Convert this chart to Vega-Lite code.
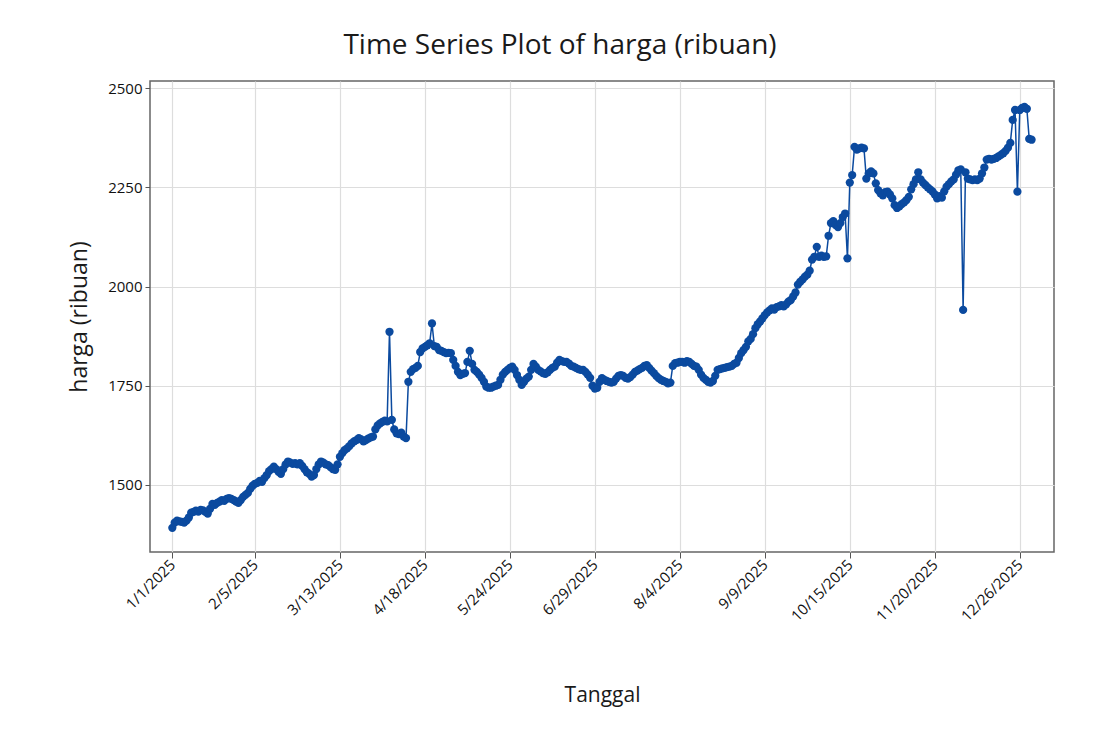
{
  "$schema": "https://vega.github.io/schema/vega-lite/v6.json",
  "autosize": "none",
  "width": 904,
  "height": 471,
  "padding": {"left": 150, "top": 81, "right": 43, "bottom": 178},
  "background": "white",
  "title": {
    "text": "Time Series Plot of harga (ribuan)",
    "anchor": "middle",
    "dx": -42,
    "offset": 21,
    "font": "Open Sans",
    "fontSize": 28,
    "fontWeight": "normal",
    "color": "#1a1a1a"
  },
  "config": {
    "view": {"stroke": "#666666", "strokeWidth": 1.5},
    "axis": {
      "labelFont": "Open Sans",
      "titleFont": "Open Sans",
      "labelFontSize": 15,
      "titleFontSize": 21,
      "titleFontWeight": "normal",
      "labelColor": "#111111",
      "titleColor": "#1a1a1a",
      "gridColor": "#dddddd",
      "gridWidth": 1.2,
      "tickColor": "#555555",
      "tickSize": 6,
      "domain": false
    }
  },
  "data": {
    "values": [
      {"t":"2025-01-01","v":1392},{"t":"2025-01-02","v":1405},{"t":"2025-01-03","v":1410},{"t":"2025-01-04","v":1408},{"t":"2025-01-05","v":1407},{"t":"2025-01-06","v":1405},{"t":"2025-01-07","v":1410},{"t":"2025-01-08","v":1418},{"t":"2025-01-09","v":1430},{"t":"2025-01-10","v":1432},{"t":"2025-01-11","v":1435},{"t":"2025-01-12","v":1433},{"t":"2025-01-13","v":1437},{"t":"2025-01-14","v":1436},{"t":"2025-01-15","v":1432},{"t":"2025-01-16","v":1428},{"t":"2025-01-17","v":1440},{"t":"2025-01-18","v":1452},{"t":"2025-01-19","v":1450},{"t":"2025-01-20","v":1455},{"t":"2025-01-21","v":1458},{"t":"2025-01-22","v":1462},{"t":"2025-01-23","v":1460},{"t":"2025-01-24","v":1465},{"t":"2025-01-25","v":1467},{"t":"2025-01-26","v":1465},{"t":"2025-01-27","v":1462},{"t":"2025-01-28","v":1458},{"t":"2025-01-29","v":1455},{"t":"2025-01-30","v":1462},{"t":"2025-01-31","v":1470},
      {"t":"2025-02-01","v":1475},{"t":"2025-02-02","v":1480},{"t":"2025-02-03","v":1490},{"t":"2025-02-04","v":1498},{"t":"2025-02-05","v":1503},{"t":"2025-02-06","v":1505},{"t":"2025-02-07","v":1510},{"t":"2025-02-08","v":1508},{"t":"2025-02-09","v":1517},{"t":"2025-02-10","v":1525},{"t":"2025-02-11","v":1535},{"t":"2025-02-12","v":1540},{"t":"2025-02-13","v":1546},{"t":"2025-02-14","v":1540},{"t":"2025-02-15","v":1533},{"t":"2025-02-16","v":1528},{"t":"2025-02-17","v":1540},{"t":"2025-02-18","v":1552},{"t":"2025-02-19","v":1559},{"t":"2025-02-20","v":1556},{"t":"2025-02-21","v":1553},{"t":"2025-02-22","v":1555},{"t":"2025-02-23","v":1552},{"t":"2025-02-24","v":1555},{"t":"2025-02-25","v":1548},{"t":"2025-02-26","v":1540},{"t":"2025-02-27","v":1532},{"t":"2025-02-28","v":1528},
      {"t":"2025-03-01","v":1521},{"t":"2025-03-02","v":1525},{"t":"2025-03-03","v":1540},{"t":"2025-03-04","v":1552},{"t":"2025-03-05","v":1559},{"t":"2025-03-06","v":1556},{"t":"2025-03-07","v":1552},{"t":"2025-03-08","v":1550},{"t":"2025-03-09","v":1545},{"t":"2025-03-10","v":1540},{"t":"2025-03-11","v":1538},{"t":"2025-03-12","v":1552},{"t":"2025-03-13","v":1571},{"t":"2025-03-14","v":1580},{"t":"2025-03-15","v":1588},{"t":"2025-03-16","v":1592},{"t":"2025-03-17","v":1598},{"t":"2025-03-18","v":1605},{"t":"2025-03-19","v":1610},{"t":"2025-03-20","v":1613},{"t":"2025-03-21","v":1618},{"t":"2025-03-22","v":1615},{"t":"2025-03-23","v":1610},{"t":"2025-03-24","v":1613},{"t":"2025-03-25","v":1617},{"t":"2025-03-26","v":1620},{"t":"2025-03-27","v":1622},{"t":"2025-03-28","v":1640},{"t":"2025-03-29","v":1650},{"t":"2025-03-30","v":1655},{"t":"2025-03-31","v":1659},
      {"t":"2025-04-01","v":1662},{"t":"2025-04-02","v":1660},{"t":"2025-04-03","v":1886},{"t":"2025-04-04","v":1664},{"t":"2025-04-05","v":1640},{"t":"2025-04-06","v":1630},{"t":"2025-04-07","v":1628},{"t":"2025-04-08","v":1632},{"t":"2025-04-09","v":1622},{"t":"2025-04-10","v":1618},{"t":"2025-04-11","v":1760},{"t":"2025-04-12","v":1785},{"t":"2025-04-13","v":1792},{"t":"2025-04-14","v":1795},{"t":"2025-04-15","v":1800},{"t":"2025-04-16","v":1835},{"t":"2025-04-17","v":1844},{"t":"2025-04-18","v":1848},{"t":"2025-04-19","v":1852},{"t":"2025-04-20","v":1857},{"t":"2025-04-21","v":1907},{"t":"2025-04-22","v":1850},{"t":"2025-04-23","v":1848},{"t":"2025-04-24","v":1840},{"t":"2025-04-25","v":1838},{"t":"2025-04-26","v":1835},{"t":"2025-04-27","v":1832},{"t":"2025-04-28","v":1833},{"t":"2025-04-29","v":1832},{"t":"2025-04-30","v":1815},
      {"t":"2025-05-01","v":1800},{"t":"2025-05-02","v":1785},{"t":"2025-05-03","v":1777},{"t":"2025-05-04","v":1780},{"t":"2025-05-05","v":1782},{"t":"2025-05-06","v":1810},{"t":"2025-05-07","v":1838},{"t":"2025-05-08","v":1805},{"t":"2025-05-09","v":1790},{"t":"2025-05-10","v":1785},{"t":"2025-05-11","v":1778},{"t":"2025-05-12","v":1770},{"t":"2025-05-13","v":1760},{"t":"2025-05-14","v":1748},{"t":"2025-05-15","v":1745},{"t":"2025-05-16","v":1745},{"t":"2025-05-17","v":1748},{"t":"2025-05-18","v":1750},{"t":"2025-05-19","v":1752},{"t":"2025-05-20","v":1765},{"t":"2025-05-21","v":1778},{"t":"2025-05-22","v":1785},{"t":"2025-05-23","v":1790},{"t":"2025-05-24","v":1795},{"t":"2025-05-25","v":1798},{"t":"2025-05-26","v":1790},{"t":"2025-05-27","v":1777},{"t":"2025-05-28","v":1765},{"t":"2025-05-29","v":1752},{"t":"2025-05-30","v":1760},{"t":"2025-05-31","v":1768},
      {"t":"2025-06-01","v":1773},{"t":"2025-06-02","v":1790},{"t":"2025-06-03","v":1805},{"t":"2025-06-04","v":1798},{"t":"2025-06-05","v":1790},{"t":"2025-06-06","v":1786},{"t":"2025-06-07","v":1782},{"t":"2025-06-08","v":1780},{"t":"2025-06-09","v":1784},{"t":"2025-06-10","v":1790},{"t":"2025-06-11","v":1795},{"t":"2025-06-12","v":1798},{"t":"2025-06-13","v":1808},{"t":"2025-06-14","v":1815},{"t":"2025-06-15","v":1812},{"t":"2025-06-16","v":1810},{"t":"2025-06-17","v":1810},{"t":"2025-06-18","v":1806},{"t":"2025-06-19","v":1800},{"t":"2025-06-20","v":1798},{"t":"2025-06-21","v":1795},{"t":"2025-06-22","v":1792},{"t":"2025-06-23","v":1790},{"t":"2025-06-24","v":1790},{"t":"2025-06-25","v":1785},{"t":"2025-06-26","v":1778},{"t":"2025-06-27","v":1770},{"t":"2025-06-28","v":1750},{"t":"2025-06-29","v":1743},{"t":"2025-06-30","v":1745},
      {"t":"2025-07-01","v":1760},{"t":"2025-07-02","v":1769},{"t":"2025-07-03","v":1765},{"t":"2025-07-04","v":1762},{"t":"2025-07-05","v":1760},{"t":"2025-07-06","v":1758},{"t":"2025-07-07","v":1760},{"t":"2025-07-08","v":1768},{"t":"2025-07-09","v":1775},{"t":"2025-07-10","v":1777},{"t":"2025-07-11","v":1775},{"t":"2025-07-12","v":1770},{"t":"2025-07-13","v":1768},{"t":"2025-07-14","v":1772},{"t":"2025-07-15","v":1778},{"t":"2025-07-16","v":1785},{"t":"2025-07-17","v":1788},{"t":"2025-07-18","v":1792},{"t":"2025-07-19","v":1795},{"t":"2025-07-20","v":1800},{"t":"2025-07-21","v":1802},{"t":"2025-07-22","v":1795},{"t":"2025-07-23","v":1788},{"t":"2025-07-24","v":1782},{"t":"2025-07-25","v":1775},{"t":"2025-07-26","v":1769},{"t":"2025-07-27","v":1765},{"t":"2025-07-28","v":1762},{"t":"2025-07-29","v":1760},{"t":"2025-07-30","v":1756},{"t":"2025-07-31","v":1758},
      {"t":"2025-08-01","v":1800},{"t":"2025-08-02","v":1807},{"t":"2025-08-03","v":1808},{"t":"2025-08-04","v":1810},{"t":"2025-08-05","v":1810},{"t":"2025-08-06","v":1808},{"t":"2025-08-07","v":1812},{"t":"2025-08-08","v":1810},{"t":"2025-08-09","v":1805},{"t":"2025-08-10","v":1800},{"t":"2025-08-11","v":1798},{"t":"2025-08-12","v":1790},{"t":"2025-08-13","v":1778},{"t":"2025-08-14","v":1770},{"t":"2025-08-15","v":1765},{"t":"2025-08-16","v":1760},{"t":"2025-08-17","v":1758},{"t":"2025-08-18","v":1762},{"t":"2025-08-19","v":1775},{"t":"2025-08-20","v":1790},{"t":"2025-08-21","v":1792},{"t":"2025-08-22","v":1794},{"t":"2025-08-23","v":1795},{"t":"2025-08-24","v":1797},{"t":"2025-08-25","v":1798},{"t":"2025-08-26","v":1800},{"t":"2025-08-27","v":1805},{"t":"2025-08-28","v":1808},{"t":"2025-08-29","v":1820},{"t":"2025-08-30","v":1832},{"t":"2025-08-31","v":1840},
      {"t":"2025-09-01","v":1848},{"t":"2025-09-02","v":1862},{"t":"2025-09-03","v":1868},{"t":"2025-09-04","v":1880},{"t":"2025-09-05","v":1895},{"t":"2025-09-06","v":1905},{"t":"2025-09-07","v":1912},{"t":"2025-09-08","v":1920},{"t":"2025-09-09","v":1928},{"t":"2025-09-10","v":1935},{"t":"2025-09-11","v":1940},{"t":"2025-09-12","v":1945},{"t":"2025-09-13","v":1942},{"t":"2025-09-14","v":1948},{"t":"2025-09-15","v":1950},{"t":"2025-09-16","v":1953},{"t":"2025-09-17","v":1950},{"t":"2025-09-18","v":1955},{"t":"2025-09-19","v":1962},{"t":"2025-09-20","v":1966},{"t":"2025-09-21","v":1975},{"t":"2025-09-22","v":1985},{"t":"2025-09-23","v":2005},{"t":"2025-09-24","v":2012},{"t":"2025-09-25","v":2018},{"t":"2025-09-26","v":2025},{"t":"2025-09-27","v":2030},{"t":"2025-09-28","v":2040},{"t":"2025-09-29","v":2068},{"t":"2025-09-30","v":2075},
      {"t":"2025-10-01","v":2100},{"t":"2025-10-02","v":2075},{"t":"2025-10-03","v":2078},{"t":"2025-10-04","v":2075},{"t":"2025-10-05","v":2076},{"t":"2025-10-06","v":2128},{"t":"2025-10-07","v":2160},{"t":"2025-10-08","v":2165},{"t":"2025-10-09","v":2155},{"t":"2025-10-10","v":2150},{"t":"2025-10-11","v":2160},{"t":"2025-10-12","v":2175},{"t":"2025-10-13","v":2184},{"t":"2025-10-14","v":2071},{"t":"2025-10-15","v":2262},{"t":"2025-10-16","v":2281},{"t":"2025-10-17","v":2352},{"t":"2025-10-18","v":2345},{"t":"2025-10-19","v":2348},{"t":"2025-10-20","v":2350},{"t":"2025-10-21","v":2348},{"t":"2025-10-22","v":2272},{"t":"2025-10-23","v":2285},{"t":"2025-10-24","v":2290},{"t":"2025-10-25","v":2285},{"t":"2025-10-26","v":2260},{"t":"2025-10-27","v":2243},{"t":"2025-10-28","v":2235},{"t":"2025-10-29","v":2230},{"t":"2025-10-30","v":2238},{"t":"2025-10-31","v":2239},
      {"t":"2025-11-01","v":2232},{"t":"2025-11-02","v":2222},{"t":"2025-11-03","v":2205},{"t":"2025-11-04","v":2198},{"t":"2025-11-05","v":2202},{"t":"2025-11-06","v":2208},{"t":"2025-11-07","v":2212},{"t":"2025-11-08","v":2218},{"t":"2025-11-09","v":2226},{"t":"2025-11-10","v":2245},{"t":"2025-11-11","v":2258},{"t":"2025-11-12","v":2270},{"t":"2025-11-13","v":2288},{"t":"2025-11-14","v":2270},{"t":"2025-11-15","v":2262},{"t":"2025-11-16","v":2256},{"t":"2025-11-17","v":2250},{"t":"2025-11-18","v":2245},{"t":"2025-11-19","v":2240},{"t":"2025-11-20","v":2232},{"t":"2025-11-21","v":2222},{"t":"2025-11-22","v":2228},{"t":"2025-11-23","v":2224},{"t":"2025-11-24","v":2240},{"t":"2025-11-25","v":2252},{"t":"2025-11-26","v":2258},{"t":"2025-11-27","v":2265},{"t":"2025-11-28","v":2270},{"t":"2025-11-29","v":2282},{"t":"2025-11-30","v":2293},
      {"t":"2025-12-01","v":2295},{"t":"2025-12-02","v":1941},{"t":"2025-12-03","v":2288},{"t":"2025-12-04","v":2272},{"t":"2025-12-05","v":2270},{"t":"2025-12-06","v":2268},{"t":"2025-12-07","v":2270},{"t":"2025-12-08","v":2268},{"t":"2025-12-09","v":2272},{"t":"2025-12-10","v":2285},{"t":"2025-12-11","v":2300},{"t":"2025-12-12","v":2320},{"t":"2025-12-13","v":2322},{"t":"2025-12-14","v":2320},{"t":"2025-12-15","v":2322},{"t":"2025-12-16","v":2324},{"t":"2025-12-17","v":2328},{"t":"2025-12-18","v":2332},{"t":"2025-12-19","v":2336},{"t":"2025-12-20","v":2342},{"t":"2025-12-21","v":2350},{"t":"2025-12-22","v":2362},{"t":"2025-12-23","v":2420},{"t":"2025-12-24","v":2445},{"t":"2025-12-25","v":2239},{"t":"2025-12-26","v":2445},{"t":"2025-12-27","v":2450},{"t":"2025-12-28","v":2453},{"t":"2025-12-29","v":2448},{"t":"2025-12-30","v":2372},{"t":"2025-12-31","v":2370}
    ]
  },
  "encoding": {
    "x": {
      "field": "t",
      "type": "temporal",
      "scale": {
        "type": "utc",
        "domain": [
          {"year": 2024, "month": 12, "date": 22, "hours": 13, "utc": true},
          {"year": 2026, "month": 1, "date": 9, "hours": 12, "utc": true}
        ]
      },
      "axis": {
        "title": "Tanggal",
        "values": [
          {"year": 2025, "month": 1, "date": 1, "utc": true},
          {"year": 2025, "month": 2, "date": 5, "utc": true},
          {"year": 2025, "month": 3, "date": 13, "utc": true},
          {"year": 2025, "month": 4, "date": 18, "utc": true},
          {"year": 2025, "month": 5, "date": 24, "utc": true},
          {"year": 2025, "month": 6, "date": 29, "utc": true},
          {"year": 2025, "month": 8, "date": 4, "utc": true},
          {"year": 2025, "month": 9, "date": 9, "utc": true},
          {"year": 2025, "month": 10, "date": 15, "utc": true},
          {"year": 2025, "month": 11, "date": 20, "utc": true},
          {"year": 2025, "month": 12, "date": 26, "utc": true}
        ],
        "labelExpr": "utcFormat(datum.value, '%-m/%-d/%Y')",
        "labelAngle": -45,
        "labelAlign": "right",
        "labelBaseline": "middle",
        "labelPadding": 4,
        "labelOverlap": false,
        "titleY": 149,
        "titleBaseline": "alphabetic"
      }
    },
    "y": {
      "field": "v",
      "type": "quantitative",
      "scale": {"domain": [1331, 2518], "nice": false, "zero": false},
      "axis": {
        "title": "harga (ribuan)",
        "titleFontSize": 23,
        "values": [1500, 1750, 2000, 2250, 2500],
        "format": "d",
        "tickSize": 5,
        "labelPadding": 3,
        "titlePadding": 16
      }
    }
  },
  "layer": [
    {"mark": {"type": "line", "color": "#0B4A9F", "strokeWidth": 1.5}},
    {"mark": {"type": "circle", "color": "#0B4A9F", "opacity": 1, "size": 68}}
  ]
}
